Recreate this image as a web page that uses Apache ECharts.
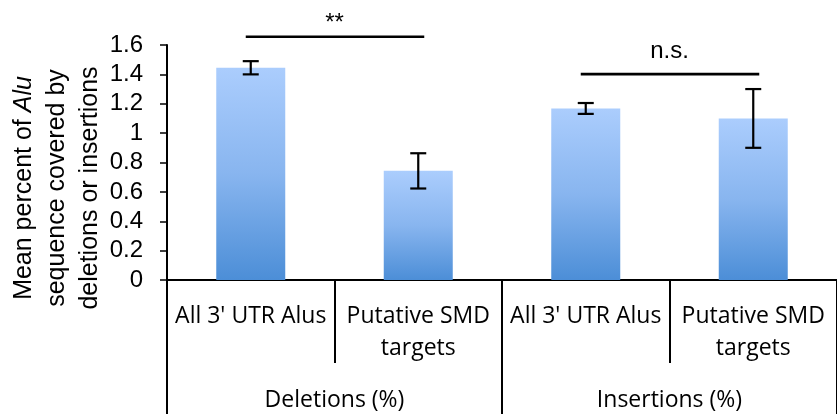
<!DOCTYPE html>
<html>
<head>
<meta charset="utf-8">
<script src="https://cdn.jsdelivr.net/npm/echarts@6/dist/echarts.min.js"></script>
<style>
  html, body { margin: 0; padding: 0; background: #fff; }
  #chart { width: 837px; height: 416px; }
</style>
</head>
<body>
<div id="chart"></div>
<script>
// Alu coverage by deletions / insertions, grouped by event type
const subCategories = ["All 3' UTR Alus", 'Putative SMD\ntargets', "All 3' UTR Alus", 'Putative SMD\ntargets'];
const groupCategories = ['Deletions (%)', 'Insertions (%)'];
const meanValues = [1.445, 0.743, 1.168, 1.10];
const errorValues = [0.045, 0.12, 0.037, 0.20];
const yTickLabels = ['0', '0.2', '0.4', '0.6', '0.8', '1', '1.2', '1.4', '1.6'];

// significance brackets: pair of bars, bracket height, annotation
const sigPairs = [[0, 1], [2, 3]];
const sigLevels = [1.656, 1.402];
const sigLabels = ['**', 'n.s.'];

const chart = echarts.init(document.getElementById('chart'), null, { renderer: 'canvas' });

const labelLift = { '**': 1, 'n.s.': 11 };
const catFont = 'Open Sans';

const option = {
  backgroundColor: '#ffffff',
  animation: false,
  grid: { left: 167, top: 45, width: 676, height: 237, containLabel: false },
  xAxis: [
    {
      type: 'category',
      data: subCategories,
      position: 'bottom',
      boundaryGap: true,
      axisLine: { show: true, lineStyle: { color: '#000', width: 2 } },
      axisTick: { show: true, interval: 0, length: 83, lineStyle: { color: '#000', width: 2 } },
      axisLabel: {
        interval: 0, margin: 20, fontSize: 23, lineHeight: 32,
        fontFamily: catFont, color: '#000'
      }
    },
    {
      type: 'category',
      data: groupCategories,
      position: 'bottom',
      offset: 0,
      boundaryGap: true,
      axisLine: { show: false },
      axisTick: { show: true, interval: 0, length: 134, lineStyle: { color: '#000', width: 2 } },
      axisLabel: {
        interval: 0, margin: 104, fontSize: 23, lineHeight: 32,
        fontFamily: catFont, color: '#000'
      }
    }
  ],
  yAxis: {
    type: 'value',
    min: 0, max: 1.6, interval: 0.2,
    axisLine: { show: true, lineStyle: { color: '#000', width: 2 } },
    axisTick: { show: true, length: 7, lineStyle: { color: '#000', width: 1.5 } },
    splitLine: { show: false },
    axisLabel: {
      margin: 24, fontSize: 24, fontFamily: 'Liberation Sans', color: '#000',
      formatter: v => yTickLabels[Math.round(v / 0.2)]
    }
  },
  graphic: [{
    type: 'text',
    x: 57, y: 188,
    rotation: Math.PI / 2,
    style: {
      text: 'Mean percent of {i|Alu}\nsequence covered by\ndeletions or insertions',
      fontSize: 25, lineHeight: 33, fontFamily: 'Liberation Sans', fill: '#000',
      align: 'center', verticalAlign: 'middle',
      rich: { i: { fontStyle: 'italic', fontSize: 25, fontFamily: 'Liberation Sans' } }
    }
  }],
  series: [
    {
      type: 'bar',
      xAxisIndex: 0,
      data: meanValues,
      barWidth: 69,
      itemStyle: {
        color: new echarts.graphic.LinearGradient(0, 0, 0, 1, [
          { offset: 0, color: '#abcdfd' },
          { offset: 0.5, color: '#88b5ef' },
          { offset: 1, color: '#4c8ed7' }
        ])
      }
    },
    {
      type: 'custom',
      xAxisIndex: 0,
      clip: false,
      data: meanValues.map((v, i) => [i, v, errorValues[i]]),
      renderItem: (params, api) => {
        const i = api.value(0), v = api.value(1), e = api.value(2);
        const hi = api.coord([i, v + e]);
        const lo = api.coord([i, v - e]);
        const cap = 8;
        const st = { stroke: '#000', lineWidth: 2.2 };
        return {
          type: 'group',
          children: [
            { type: 'line', shape: { x1: hi[0], y1: hi[1], x2: lo[0], y2: lo[1] }, style: st },
            { type: 'line', shape: { x1: hi[0] - cap, y1: hi[1], x2: hi[0] + cap, y2: hi[1] }, style: st },
            { type: 'line', shape: { x1: lo[0] - cap, y1: lo[1], x2: lo[0] + cap, y2: lo[1] }, style: st }
          ]
        };
      },
      z: 5
    },
    {
      type: 'custom',
      xAxisIndex: 0,
      clip: false,
      data: sigPairs.map((p, k) => [p[0], p[1], sigLevels[k], k]),
      renderItem: (params, api) => {
        const a = api.coord([api.value(0), api.value(2)]);
        const b = api.coord([api.value(1), api.value(2)]);
        const txt = sigLabels[api.value(3)];
        const x1 = a[0] - 5, x2 = b[0] + 6;
        return {
          type: 'group',
          children: [
            { type: 'line', shape: { x1: x1, y1: a[1], x2: x2, y2: a[1] },
              style: { stroke: '#000', lineWidth: 2.6 } },
            { type: 'text', x: (a[0] + b[0]) / 2, y: a[1] - labelLift[txt],
              style: { text: txt, fontSize: 24, fontFamily: 'Liberation Sans', fill: '#000',
                       align: 'center', verticalAlign: 'bottom' } }
          ]
        };
      },
      z: 5
    }
  ]
};

chart.setOption(option);
</script>
</body>
</html>
